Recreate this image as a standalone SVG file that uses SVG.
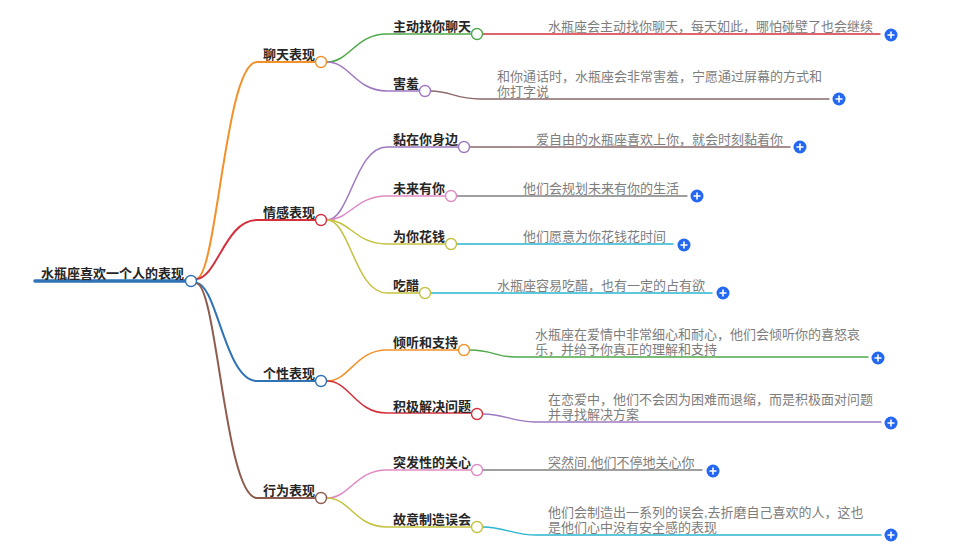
<svg xmlns="http://www.w3.org/2000/svg" width="973" height="554" viewBox="0 0 973 554">
<style>
text{font-family:"Noto Sans CJK SC","Liberation Sans",sans-serif;font-size:13px}
.lbl{fill:#262626;font-weight:bold}
.leaf{fill:#7d7d7d;font-family:"Liberation Sans","Noto Sans CJK SC",sans-serif}
.c{fill:none;stroke-linecap:round}
.w1{stroke-width:2}
.w2{stroke-width:1.5}
.w3{stroke-width:1.3}
.dot{fill:#fff;stroke-width:1.4}
.plus circle{fill:#2468f2}
.plus path{stroke:#fff;stroke-width:1.6;fill:none}
</style>
<defs>
<g id="pl" class="plus"><circle r="6.5"/><path d="M-3.5 0H3.5M0 -3.5V3.5"/></g>
</defs>
<rect width="973" height="554" fill="#fff"/>
<g id="connectors">
<path class="c" stroke="#2f72b5" stroke-width="3.5" d="M35 281H185"/>
<path class="c w1" stroke="#f2912a" d="M196 279C217 279 225 62 257 62L315 62"/>
<path class="c w1" stroke="#d4303c" d="M196 279C217 279 225 220 257 220L315 220"/>
<path class="c w1" stroke="#2f72b5" d="M196 283C217 283 225 381 257 381L315 381"/>
<path class="c w1" stroke="#8d5c4f" d="M196 283C217 283 225 498 257 498L315 498"/>
<path class="c w2" stroke="#4ea84a" d="M327 62C350 62 355 34 387 34L471 34"/>
<path class="c w2" stroke="#9d78c0" d="M327 62C350 62 355 91 387 91L419 91"/>
<path class="c w2" stroke="#9d78c0" d="M327 220C350 220 355 147 387 147L458 147"/>
<path class="c w2" stroke="#e08ac4" d="M327 220C350 220 355 196 387 196L445 196"/>
<path class="c w2" stroke="#c4c23f" d="M327 220C350 220 355 244 387 244L445 244"/>
<path class="c w2" stroke="#c4c23f" d="M327 220C350 220 355 293 387 293L419 293"/>
<path class="c w2" stroke="#f2912a" d="M327 381C350 381 355 350 387 350L458 350"/>
<path class="c w2" stroke="#d4303c" d="M327 381C350 381 355 413 387 413L471 413"/>
<path class="c w2" stroke="#e08ac4" d="M327 498C350 498 355 470 387 470L471 470"/>
<path class="c w2" stroke="#c4c23f" d="M327 498C350 498 355 527 387 527L471 527"/>
<path class="c w3" stroke="#d4303c" d="M483 34H880"/>
<path class="c w3" stroke="#8b6a6a" d="M431 91C450 91 456 99 480 99L829 99"/>
<path class="c w3" stroke="#8b6a6a" d="M470 147H790"/>
<path class="c w3" stroke="#808080" d="M457 196H687"/>
<path class="c w3" stroke="#2ab5d0" d="M457 244H673"/>
<path class="c w3" stroke="#2ab5d0" d="M431 293H712"/>
<path class="c w3" stroke="#4ea84a" d="M470 350C492 350 497 357 515 357L868 357"/>
<path class="c w3" stroke="#9d78c0" d="M483 414C505 414 512 422 535 422L881 422"/>
<path class="c w3" stroke="#808080" d="M483 470H702"/>
<path class="c w3" stroke="#2ab5d0" d="M483 527C505 527 512 535 537 535L881 535"/>
</g>
<g id="root">
<text class="lbl" x="41" y="278">水瓶座喜欢一个人的表现</text>
<circle class="dot" cx="191" cy="281" r="5.5" stroke="#2f72b5"/>
</g>
<g id="n-chat">
<text class="lbl" x="263" y="59">聊天表现</text>
<circle class="dot" cx="321" cy="62" r="5.5" stroke="#f2912a"/>
</g>
<g id="n-emotion">
<text class="lbl" x="263" y="217">情感表现</text>
<circle class="dot" cx="321" cy="220" r="5.5" stroke="#d4303c"/>
</g>
<g id="n-personality">
<text class="lbl" x="263" y="378">个性表现</text>
<circle class="dot" cx="321" cy="381" r="5.5" stroke="#2f72b5"/>
</g>
<g id="n-behavior">
<text class="lbl" x="263" y="495">行为表现</text>
<circle class="dot" cx="321" cy="498" r="5.5" stroke="#8d5c4f"/>
</g>
<g id="n-active">
<text class="lbl" x="393" y="31">主动找你聊天</text>
<circle class="dot" cx="477" cy="34" r="5.5" stroke="#4ea84a"/>
<text class="leaf" x="548" y="31">水瓶座会主动找你聊天，每天如此，哪怕碰壁了也会继续</text>
<use href="#pl" x="891" y="35"/>
</g>
<g id="n-shy">
<text class="lbl" x="393" y="88">害羞</text>
<circle class="dot" cx="425" cy="91" r="5.5" stroke="#9d78c0"/>
<text class="leaf" x="497" y="80.5">和你通话时，水瓶座会非常害羞，宁愿通过屏幕的方式和</text>
<text class="leaf" x="497" y="96">你打字说</text>
<use href="#pl" x="839" y="99"/>
</g>
<g id="n-stick">
<text class="lbl" x="393" y="144">黏在你身边</text>
<circle class="dot" cx="464" cy="147" r="5.5" stroke="#9d78c0"/>
<text class="leaf" x="536" y="144">爱自由的水瓶座喜欢上你，就会时刻黏着你</text>
<use href="#pl" x="800" y="147"/>
</g>
<g id="n-future">
<text class="lbl" x="393" y="193">未来有你</text>
<circle class="dot" cx="451" cy="196" r="5.5" stroke="#e08ac4"/>
<text class="leaf" x="523" y="193">他们会规划未来有你的生活</text>
<use href="#pl" x="697" y="196"/>
</g>
<g id="n-spend">
<text class="lbl" x="393" y="241">为你花钱</text>
<circle class="dot" cx="451" cy="244" r="5.5" stroke="#c4c23f"/>
<text class="leaf" x="523" y="241">他们愿意为你花钱花时间</text>
<use href="#pl" x="684" y="245"/>
</g>
<g id="n-jealous">
<text class="lbl" x="393" y="290">吃醋</text>
<circle class="dot" cx="425" cy="293" r="5.5" stroke="#c4c23f"/>
<text class="leaf" x="497" y="290">水瓶座容易吃醋，也有一定的占有欲</text>
<use href="#pl" x="723" y="293"/>
</g>
<g id="n-listen">
<text class="lbl" x="393" y="347">倾听和支持</text>
<circle class="dot" cx="464" cy="350" r="5.5" stroke="#f2912a"/>
<text class="leaf" x="535" y="338.5">水瓶座在爱情中非常细心和耐心，他们会倾听你的喜怒哀</text>
<text class="leaf" x="535" y="354">乐，并给予你真正的理解和支持</text>
<use href="#pl" x="878" y="358"/>
</g>
<g id="n-solve">
<text class="lbl" x="393" y="411">积极解决问题</text>
<circle class="dot" cx="477" cy="414" r="5.5" stroke="#d4303c"/>
<text class="leaf" x="548" y="403.5">在恋爱中，他们不会因为困难而退缩，而是积极面对问题</text>
<text class="leaf" x="548" y="419">并寻找解决方案</text>
<use href="#pl" x="891" y="423"/>
</g>
<g id="n-care">
<text class="lbl" x="393" y="467">突发性的关心</text>
<circle class="dot" cx="477" cy="470" r="5.5" stroke="#e08ac4"/>
<text class="leaf" x="548" y="467">突然间,他们不停地关心你</text>
<use href="#pl" x="713" y="471"/>
</g>
<g id="n-misunderstand">
<text class="lbl" x="393" y="524">故意制造误会</text>
<circle class="dot" cx="477" cy="527" r="5.5" stroke="#c4c23f"/>
<text class="leaf" x="548" y="516.5">他们会制造出一系列的误会,去折磨自己喜欢的人，这也</text>
<text class="leaf" x="548" y="532">是他们心中没有安全感的表现</text>
<use href="#pl" x="891" y="535"/>
</g>
</svg>
